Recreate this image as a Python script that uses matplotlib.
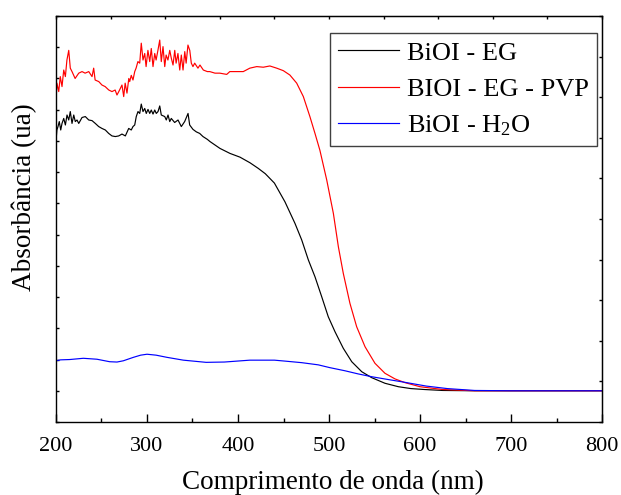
import matplotlib
matplotlib.use("Agg")
import matplotlib.pyplot as plt
import numpy as np

# ---- dados (nm, absorbância em u.a.) ----
eg_nm = [200, 201, 202.2, 203.6, 205.2, 206.6, 208.5, 210.3, 212.1, 214, 215.7, 217.6,
         219.5, 221.2, 223.1, 225, 228.6, 232.2, 236, 239.6, 243.2, 246.9, 250.5, 254.2,
         257.9, 261.5, 265.2, 268.9, 272.5, 276.2, 279.9, 282.7, 284.6, 286.5, 288.2,
         290.1, 292, 293.7, 295.6, 297.5, 299.2, 301.1, 303, 304.7, 306.6, 308.5, 310.2,
         312.1, 314, 315.7, 319.5, 321.2, 323.1, 325, 326.7, 330.4, 334.1, 337.7, 341.4,
         345.1, 346.9, 350.5, 354.2, 357.9, 361.5, 366.3, 369.2, 380.2, 391.2, 402.2,
         413.2, 422.3, 430, 440, 451.6, 462.6, 470, 477.3, 484.6, 492, 499.2, 506.6,
         515.7, 525, 536, 546.9, 561.5, 576.2, 590, 605, 625, 660, 800]
eg_abs = [0.900, 0.935, 0.946, 0.962, 0.935, 0.956, 0.972, 0.951, 0.983, 0.967, 0.994, 0.956,
          0.983, 0.962, 0.967, 0.956, 0.975, 0.978, 0.967, 0.965, 0.956, 0.946, 0.940, 0.935,
          0.924, 0.916, 0.914, 0.916, 0.922, 0.916, 0.940, 0.935, 0.946, 0.951, 0.978,
          0.994, 0.988, 1.018, 0.994, 1.004, 0.988, 1.001, 0.988, 0.999, 0.986, 0.999, 0.988,
          0.994, 1.012, 0.983, 0.978, 0.967, 0.983, 0.962, 0.972, 0.959, 0.967, 0.946, 0.962,
          0.988, 0.951, 0.937, 0.929, 0.924, 0.914, 0.905, 0.898, 0.876, 0.860, 0.848,
          0.830, 0.812, 0.795, 0.765, 0.705, 0.636, 0.583, 0.519, 0.465, 0.401, 0.337, 0.289,
          0.236, 0.193, 0.161, 0.142, 0.124, 0.113, 0.107, 0.104, 0.101, 0.100, 0.100]

pvp_nm = [200, 201, 203, 204.7, 206.6, 208.5, 210.3, 212, 214, 215.7, 217.6, 221, 225,
          228.6, 232, 236, 239.6, 241.4, 243, 247, 250.5, 254, 258, 261.5, 265, 267, 269,
          272.5, 274.4, 276, 278, 280, 281, 282.7, 284.6, 286.5, 288, 290, 292, 293.7,
          295.6, 297.5, 299, 301, 303, 304.7, 306.6, 308.5, 310, 312, 314, 315.7, 317.6,
          319.5, 321, 323, 325, 326.7, 328.6, 330.5, 332, 334, 336, 337.7, 339.6, 341.5,
          343, 345, 347, 348.7, 350.5, 352.4, 356, 358.2, 361.9, 366.3, 369, 374.7, 380,
          387.6, 391, 398.6, 405.8, 413, 420.6, 427.8, 435, 442.5, 449.8, 457, 464.5,
          471.8, 479, 484.6, 490, 497.5, 504.8, 510.3, 515.7, 523, 530.4, 539.6, 550.5,
          561.5, 572.5, 583.5, 600, 625, 660, 800]
pvp_abs = [1.026, 1.085, 1.058, 1.106, 1.074, 1.127, 1.106, 1.159, 1.190, 1.133, 1.122, 1.100,
           1.117, 1.122, 1.117, 1.122, 1.106, 1.133, 1.095, 1.090, 1.079, 1.074, 1.063, 1.058,
           1.063, 1.047, 1.058, 1.079, 1.042, 1.085, 1.053, 1.100, 1.090, 1.110, 1.095,
           1.122, 1.133, 1.154, 1.149, 1.213, 1.159, 1.180, 1.138, 1.190, 1.154, 1.196,
           1.138, 1.180, 1.159, 1.190, 1.223, 1.154, 1.202, 1.138, 1.175, 1.159, 1.190,
           1.165, 1.143, 1.190, 1.149, 1.180, 1.127, 1.175, 1.127, 1.186, 1.149, 1.207,
           1.190, 1.149, 1.138, 1.149, 1.133, 1.143, 1.127, 1.122, 1.122, 1.117, 1.117,
           1.113, 1.122, 1.122, 1.122, 1.133, 1.138, 1.136, 1.140, 1.133, 1.125, 1.111,
           1.085, 1.042, 0.978, 0.924, 0.870, 0.775, 0.668, 0.561, 0.476, 0.380, 0.305,
           0.241, 0.188, 0.156, 0.138, 0.126, 0.113, 0.104, 0.100, 0.100]

h2o_nm = [200, 205, 215, 230, 245, 259, 267, 274, 285, 293, 300, 310, 322, 340, 365, 385,
          413, 440, 451.6, 470, 488.2, 501, 517.6, 532, 546.9, 565, 583.5, 607, 630, 660,
          700, 800]
h2o_abs = [0.196, 0.199, 0.200, 0.204, 0.201, 0.193, 0.192, 0.196, 0.207, 0.214, 0.217,
           0.214, 0.207, 0.198, 0.191, 0.192, 0.198, 0.198, 0.195, 0.190, 0.183, 0.174,
           0.164, 0.154, 0.145, 0.136, 0.127, 0.115, 0.107, 0.101, 0.100, 0.100]

labels = ["BiOI - EG", "BIOI - EG - PVP", r"BiOI - H$_2$O"]
colors = ["black", "red", "blue"]

plt.rcParams["font.family"] = ["Liberation Serif", "DejaVu Serif"]
plt.rcParams["mathtext.fontset"] = "custom"
plt.rcParams["mathtext.rm"] = "Liberation Serif"
plt.rcParams["mathtext.it"] = "Liberation Serif:italic"

fig = plt.figure(figsize=(6.21, 4.95), dpi=100)
ax = fig.add_axes([56 / 621, 73 / 495, 546 / 621, 406 / 495])

for x, y, lab, c in zip([eg_nm, pvp_nm, h2o_nm], [eg_abs, pvp_abs, h2o_abs], labels, colors):
    ax.plot(x, y, color=c, lw=0.85, label=lab)

ax.set_xlim(200, 800)
ax.set_ylim(0, 1.3)
ax.set_xticks(np.arange(200, 801, 100))
ax.set_xticks(np.arange(250, 800, 100), minor=True)
ax.set_yticks(np.arange(0, 1.31, 0.1))
ax.set_yticklabels([])
ax.tick_params(axis="x", which="major", direction="in", length=6, width=1, labelsize=16, pad=11)
ax.tick_params(axis="x", which="minor", direction="in", length=3, width=1)
ax.tick_params(axis="y", direction="in", length=2.5, width=1)
for s in ax.spines.values():
    s.set_linewidth(1.0)

# eixos secundários (topo e direita) com divisões próprias
top = ax.secondary_xaxis("top", functions=(lambda x: (x - 200) / 60, lambda t: 200 + 60 * t))
top.set_xticks(np.arange(0, 11, 1))
top.set_xticklabels([])
top.tick_params(direction="in", length=2, width=1)
right = ax.secondary_yaxis("right", functions=(lambda y: y / 0.13, lambda t: t * 0.13))
right.set_yticks(np.arange(0, 11, 1))
right.set_yticklabels([])
right.tick_params(direction="in", length=2.5, width=1)

ax.set_xlabel("Comprimento de onda (nm)", fontsize=19.5)
ax.xaxis.set_label_coords(277 / 546, -48 / 406)
ax.set_ylabel("Absorbância (ua)", fontsize=19.5)
ax.yaxis.set_label_coords(-19 / 546, 224.5 / 406)

leg = ax.legend(loc="upper right", bbox_to_anchor=(596.7 / 621, 1 - 33.3 / 495),
                bbox_transform=fig.transFigure, borderaxespad=0, fontsize=19,
                fancybox=False, framealpha=1, edgecolor="#404040",
                handlelength=2.3, handletextpad=0.3, borderpad=0.3, labelspacing=0.48)
leg.get_frame().set_linewidth(1.0)

fig.savefig("out.png", dpi=100)
